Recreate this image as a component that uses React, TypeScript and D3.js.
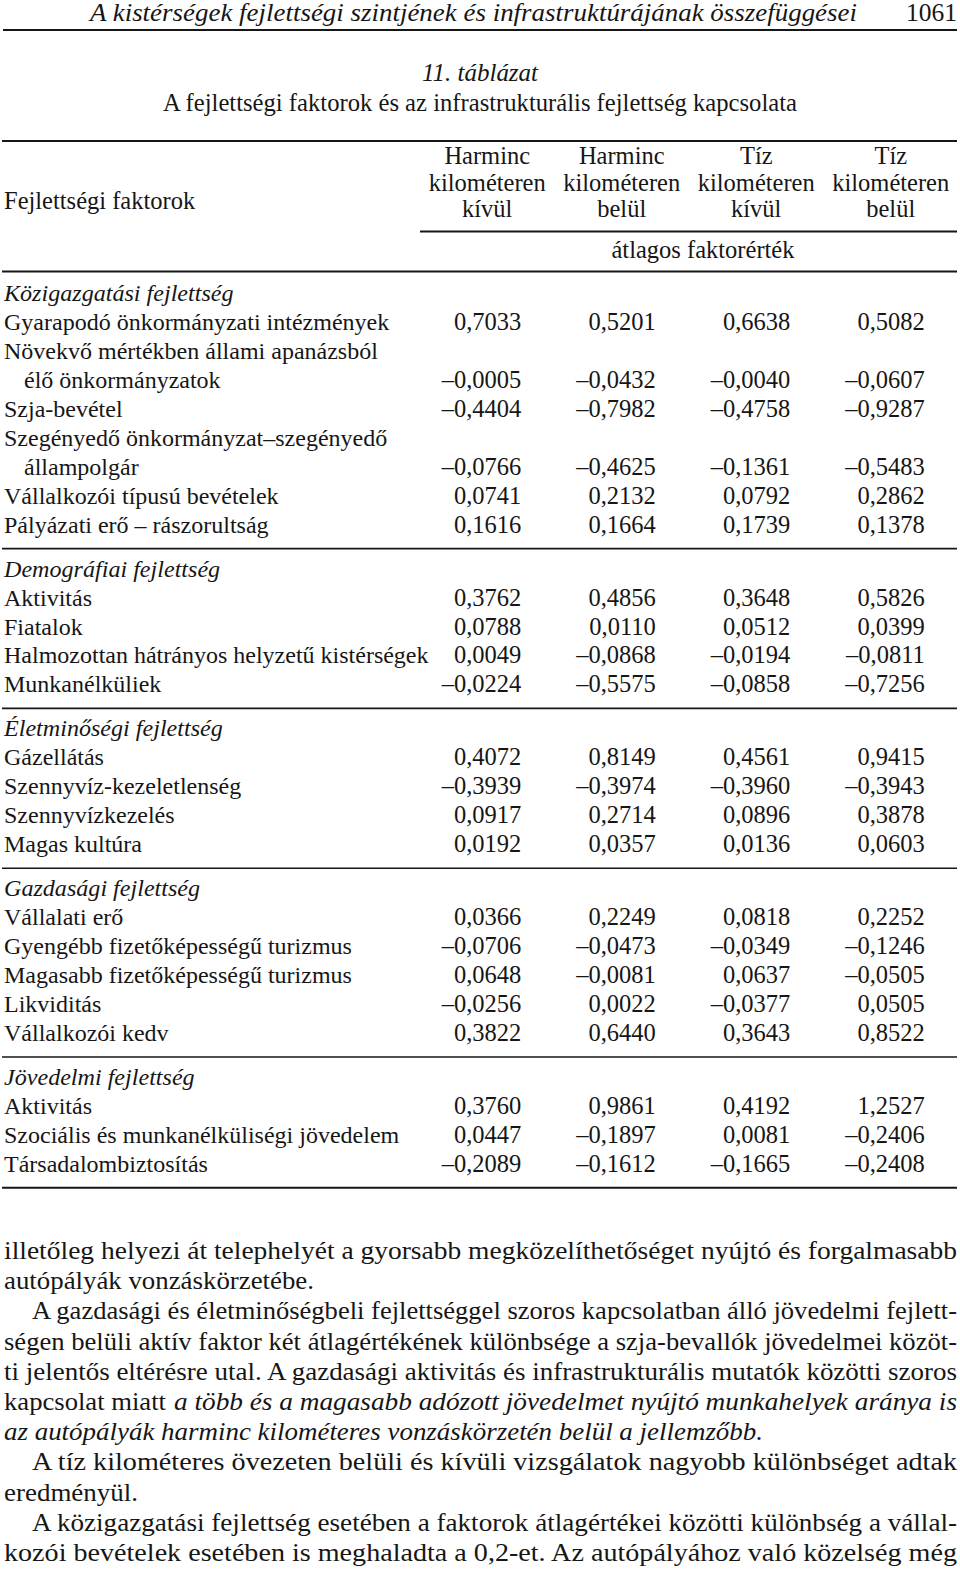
import React from 'react';
import * as d3 from 'd3';

const pageTitle = 'A kistérségek fejlettségi szintjének és infrastruktúrájának összefüggései';
const pageNumber = '1061';
const tableNumber = '11. táblázat';
const tableTitle = 'A fejlettségi faktorok és az infrastrukturális fejlettség kapcsolata';

const columnHeads = [
  ['Harminc', 'kilométeren', 'kívül'],
  ['Harminc', 'kilométeren', 'belül'],
  ['Tíz', 'kilométeren', 'kívül'],
  ['Tíz', 'kilométeren', 'belül'],
];

const groupNames = [
  'Közigazgatási fejlettség',
  'Demográfiai fejlettség',
  'Életminőségi fejlettség',
  'Gazdasági fejlettség',
  'Jövedelmi fejlettség',
];
const groupSizes = [6, 4, 4, 5, 3];

const factorNames = [
  ['Gyarapodó önkormányzati intézmények'],
  ['Növekvő mértékben állami apanázsból', 'élő önkormányzatok'],
  ['Szja-bevétel'],
  ['Szegényedő önkormányzat–szegényedő', 'állampolgár'],
  ['Vállalkozói típusú bevételek'],
  ['Pályázati erő – rászorultság'],
  ['Aktivitás'],
  ['Fiatalok'],
  ['Halmozottan hátrányos helyzetű kistérségek'],
  ['Munkanélküliek'],
  ['Gázellátás'],
  ['Szennyvíz-kezeletlenség'],
  ['Szennyvízkezelés'],
  ['Magas kultúra'],
  ['Vállalati erő'],
  ['Gyengébb fizetőképességű turizmus'],
  ['Magasabb fizetőképességű turizmus'],
  ['Likviditás'],
  ['Vállalkozói kedv'],
  ['Aktivitás'],
  ['Szociális és munkanélküliségi jövedelem'],
  ['Társadalombiztosítás'],
];

const harmincKivul = [0.7033, -0.0005, -0.4404, -0.0766, 0.0741, 0.1616, 0.3762, 0.0788, 0.0049, -0.0224, 0.4072, -0.3939, 0.0917, 0.0192, 0.0366, -0.0706, 0.0648, -0.0256, 0.3822, 0.376, 0.0447, -0.2089];
const harmincBelul = [0.5201, -0.0432, -0.7982, -0.4625, 0.2132, 0.1664, 0.4856, 0.011, -0.0868, -0.5575, 0.8149, -0.3974, 0.2714, 0.0357, 0.2249, -0.0473, -0.0081, 0.0022, 0.644, 0.9861, -0.1897, -0.1612];
const tizKivul = [0.6638, -0.004, -0.4758, -0.1361, 0.0792, 0.1739, 0.3648, 0.0512, -0.0194, -0.0858, 0.4561, -0.396, 0.0896, 0.0136, 0.0818, -0.0349, 0.0637, -0.0377, 0.3643, 0.4192, 0.0081, -0.1665];
const tizBelul = [0.5082, -0.0607, -0.9287, -0.5483, 0.2862, 0.1378, 0.5826, 0.0399, -0.0811, -0.7256, 0.9415, -0.3943, 0.3878, 0.0603, 0.2252, -0.1246, -0.0505, 0.0505, 0.8522, 1.2527, -0.2406, -0.2408];

// body text under the table: [text, italic, x start, x end]
const paragraphLines: [string, boolean, number, number][][] = [
  [['illetőleg helyezi át telephelyét a gyorsabb megközelíthetőséget nyújtó és forgalmasabb', false, 4, 957]],
  [['autópályák vonzáskörzetébe.', false, 4, 314]],
  [['A gazdasági és életminőségbeli fejlettséggel szoros kapcsolatban álló jövedelmi fejlett-', false, 32, 957]],
  [['ségen belüli aktív faktor két átlagértékének különbsége a szja-bevallók jövedelmei közöt-', false, 4, 957]],
  [['ti jelentős eltérésre utal. A gazdasági aktivitás és infrastrukturális mutatók közötti szoros', false, 4, 957]],
  [
    ['kapcsolat miatt', false, 4, 166],
    ['a több és a magasabb adózott jövedelmet nyújtó munkahelyek aránya is', true, 174, 957],
  ],
  [['az autópályák harminc kilométeres vonzáskörzetén belül a jellemzőbb.', true, 4, 763]],
  [['A tíz kilométeres övezeten belüli és kívüli vizsgálatok nagyobb különbséget adtak', false, 32, 957]],
  [['eredményül.', false, 4, 138]],
  [['A közigazgatási fejlettség esetében a faktorok átlagértékei közötti különbség a vállal-', false, 32, 957]],
  [['kozói bevételek esetében is meghaladta a 0,2-et. Az autópályához való közelség még', false, 4, 957]],
];

const width = 960;
const height = 1571;
const ink = '#161616';
const font = '"Liberation Serif", "Times New Roman", serif';

const fmt = d3
  .formatLocale({ decimal: ',', thousands: ' ', grouping: [3], currency: ['', ''], minus: '–' })
  .format('.4f');

export default function App() {
  const columns = [harmincKivul, harmincBelul, tizKivul, tizBelul];
  const x = d3.scaleBand<number>().domain(d3.range(4)).range([420, 958]);

  // lay out rows: group header, factor lines, separator
  const lineH = 28.95;
  const rows: { label: string[]; y: number; idx: number }[] = [];
  const heads: { name: string; y: number }[] = [];
  const seps: number[] = [];
  let y = 301;
  let k = 0;
  groupNames.forEach((g, gi) => {
    heads.push({ name: g, y });
    for (let i = 0; i < groupSizes[gi]; i++) {
      const lab = factorNames[k];
      const start = y + lineH;
      y = start + (lab.length - 1) * lineH;
      rows.push({ label: lab, y: start, idx: k });
      k++;
    }
    const s = y + 16;
    seps.push(s);
    y = s + 28;
  });

  const py = d3.scaleLinear().domain([0, 1]).range([1259, 1289.2]);

  return (
    <svg width={width} height={height} style={{ position: 'absolute', left: 0, top: 0, background: '#fff' }} fontFamily={font} fill={ink}>
      <rect width={width} height={height} fill="#fff" />
      <text x={90} y={21} fontSize={25} fontStyle="italic" textLength={767} lengthAdjust="spacingAndGlyphs">{pageTitle}</text>
      <text x={906} y={21} fontSize={25} textLength={51} lengthAdjust="spacingAndGlyphs">{pageNumber}</text>
      <line x1={3} x2={957} y1={30} y2={30} stroke={ink} strokeWidth={2.2} />

      <text x={480} y={81} fontSize={25} fontStyle="italic" textAnchor="middle" textLength={116} lengthAdjust="spacingAndGlyphs">{tableNumber}</text>
      <text x={480} y={111} fontSize={25} textAnchor="middle" textLength={634} lengthAdjust="spacingAndGlyphs">{tableTitle}</text>

      <line x1={2} x2={957} y1={141} y2={141} stroke={ink} strokeWidth={2} />
      <text x={4} y={209} fontSize={24.5}>Fejlettségi faktorok</text>
      {columnHeads.map((h, ci) => (
        <text key={ci} x={x(ci)! + x.bandwidth() / 2} textAnchor="middle" fontSize={24.5}>
          {h.map((s, li) => (
            <tspan key={li} x={x(ci)! + x.bandwidth() / 2} y={164 + li * 26.5}>{s}</tspan>
          ))}
        </text>
      ))}
      <line x1={420} x2={957} y1={231.5} y2={231.5} stroke={ink} strokeWidth={2} />
      <text x={703} y={258} fontSize={24.5} textAnchor="middle">átlagos faktorérték</text>
      <line x1={2} x2={957} y1={271.5} y2={271.5} stroke={ink} strokeWidth={2} />

      {heads.map((h) => (
        <text key={h.name} x={4} y={h.y} fontSize={24.1} fontStyle="italic">{h.name}</text>
      ))}
      {rows.map((r) => (
        <g key={r.idx}>
          {r.label.map((s, li) => (
            <text key={li} x={li === 0 ? 4 : 24} y={r.y + li * lineH} fontSize={24}>{s}</text>
          ))}
          {columns.map((col, ci) => (
            <text key={ci} x={x(ci)! + x.bandwidth() / 2 + 34} y={r.y + (r.label.length - 1) * lineH} fontSize={24.5} textAnchor="end">
              {fmt(col[r.idx])}
            </text>
          ))}
        </g>
      ))}
      {seps.map((s, i) => (
        <line key={i} x1={2} x2={957} y1={s} y2={s} stroke={ink} strokeWidth={i === seps.length - 1 ? 2 : 1.6} />
      ))}

      {paragraphLines.map((parts, li) =>
        parts.map(([t, it, x0, x1], pi) => (
          <text key={li + '-' + pi} x={x0} y={py(li)} fontSize={25} fontStyle={it ? 'italic' : 'normal'} textLength={x1 - x0} lengthAdjust="spacingAndGlyphs">
            {t}
          </text>
        ))
      )}
    </svg>
  );
}
